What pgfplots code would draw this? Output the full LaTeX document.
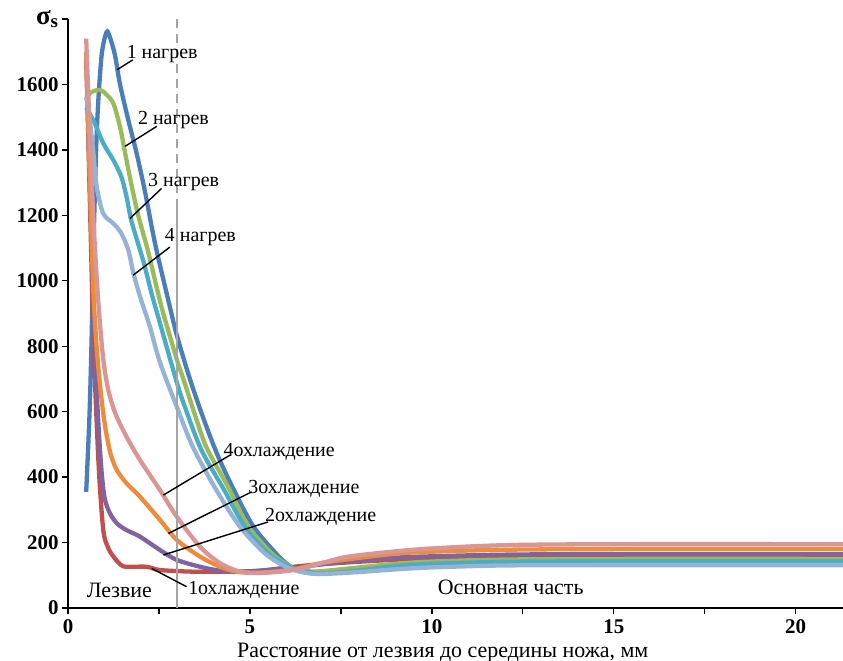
\documentclass[border=0pt]{standalone}
\usepackage{fontspec}
\setmainfont{Liberation Serif}
\usepackage{pgfplots}
\pgfplotsset{compat=1.18}

\definecolor{n1}{RGB}{74,126,187}
\definecolor{n2}{RGB}{155,187,89}
\definecolor{n3}{RGB}{75,172,198}
\definecolor{n4}{RGB}{149,179,215}
\definecolor{o1}{RGB}{192,80,77}
\definecolor{o2}{RGB}{128,100,162}
\definecolor{o3}{RGB}{236,140,60}
\definecolor{o4}{RGB}{217,150,148}
\definecolor{vline}{RGB}{165,165,165}

\newcommand{\lbl}{\fontsize{20}{22}\selectfont}
\newcommand{\lblbig}{\fontsize{22}{24}\selectfont}

\begin{document}
\begin{tikzpicture}
\useasboundingbox (-68bp,-53bp) rectangle (775bp,608bp);
\begin{axis}[
    scale only axis,
    width=775bp, height=589bp,
    xmin=0, xmax=21.3,
    ymin=0, ymax=1800,
    axis x line*=bottom,
    axis y line*=left,
    axis line style={-, line width=1.8bp},
    xtick={0,5,10,15,20},
    minor xtick={2.5,7.5,12.5,17.5},
    ytick={0,200,...,1800},
    yticklabels={0,200,400,600,800,1000,1200,1400,1600,{\fontsize{27}{28}\selectfont σ\textsubscript{s}}},
    tick align=outside,
    major tick length=6bp,
    minor tick length=6bp,
    tick style={black, line width=1.3bp},
    ticklabel style={font=\fontsize{21}{22}\selectfont\bfseries},
    xticklabel style={yshift=-2bp},
    /pgf/number format/assume math mode=true,
    clip=false,
    every axis plot/.append style={line width=4.3bp, smooth, tension=0.5, no markers},
]
% 1 нагрев
\addplot[n1] coordinates {
  (0.5,355) (0.55,480) (0.6,620) (0.65,830) (0.7,1100) (0.77,1390) (0.83,1545)
  (0.93,1695) (1.06,1760) (1.15,1745) (1.29,1690) (1.43,1600) (1.66,1490)
  (1.89,1388) (2.12,1270) (2.4,1110) (2.8,920) (3.0,830) (3.35,700) (3.72,580)
  (4.1,470) (4.54,365) (5.09,250) (5.73,165) (6.1,128) (6.5,110) (6.9,106)
  (8,112) (9,124) (10,131) (12,137) (15,138) (21.3,138)
};
% 1 охлаждение
\addplot[o1] coordinates {
  (0.5,1700) (0.6,1250) (0.68,900) (0.74,696) (0.85,420) (0.97,238) (1.1,185)
  (1.25,157) (1.45,132) (1.61,126) (2.16,126) (2.53,116) (3.44,111) (4.5,111)
  (5.27,114) (6.2,126) (7.1,135) (8.9,147) (10,151) (12,155) (15,156) (21.3,156)
};
% 2 нагрев
\addplot[n2] coordinates {
  (0.5,1560) (0.65,1577) (0.88,1583) (1.05,1570) (1.25,1541) (1.43,1470)
  (1.57,1390) (1.75,1290) (1.93,1200) (2.2,1090) (2.48,960) (2.62,900)
  (3.0,756) (3.17,700) (3.49,590) (3.81,490) (4.4,370) (4.95,250) (5.6,167)
  (6.1,127) (6.5,114) (6.9,112) (8,124) (9,135) (10,142) (12,148) (15,150) (21.3,150)
};
% 2 охлаждение
\addplot[o2] coordinates {
  (0.5,1700) (0.6,1300) (0.7,950) (0.79,660) (0.9,450) (1.0,340) (1.15,290)
  (1.35,258) (1.61,238) (1.98,218) (2.53,177) (2.99,147) (3.63,126) (4.18,114)
  (4.8,111) (6.2,122) (7.1,135) (8.9,153) (10,158) (12,163) (15,165) (21.3,165)
};
% 3 нагрев
\addplot[n3] coordinates {
  (0.5,1530) (0.74,1480) (0.97,1420) (1.25,1368) (1.47,1317) (1.61,1256)
  (1.75,1180) (2.07,1060) (2.3,960) (2.48,889) (3.0,686) (3.26,600) (3.67,482)
  (4.27,365) (4.86,248) (5.5,167) (6.1,125) (6.6,110) (7.1,106) (8,115) (9,128)
  (10,135) (12,141) (15,143) (21.3,143)
};
% 3 охлаждение
\addplot[o3] coordinates {
  (0.5,1700) (0.6,1300) (0.7,960) (0.8,780) (0.9,660) (1.0,570) (1.1,505)
  (1.2,460) (1.35,420) (1.61,381) (1.98,340) (2.53,269) (2.99,208) (3.63,157)
  (4.18,126) (4.63,111) (5.27,108) (6.2,118) (7.1,140) (8.9,165) (10,172)
  (12,178) (15,180) (21.3,180)
};
% 4 нагрев
\addplot[n4] coordinates {
  (0.5,1561) (0.6,1490) (0.7,1388) (0.79,1287) (0.97,1205) (1.25,1175)
  (1.47,1144) (1.66,1093) (1.8,1022) (2.0,945) (2.25,860) (2.53,750) (3.0,612)
  (3.44,490) (4.08,360) (4.73,248) (5.41,167) (6.0,125) (6.5,108) (7.0,104)
  (8,110) (9,118) (10,124) (12,130) (15,131) (21.3,131)
};
% 4 охлаждение
\addplot[o4] coordinates {
  (0.5,1740) (0.6,1450) (0.7,1185) (0.83,940) (0.96,770) (1.1,670) (1.3,595)
  (1.61,523) (1.98,452) (2.53,360) (2.99,279) (3.63,187) (4.18,137) (4.73,111)
  (5.27,107) (6.2,116) (7.1,141) (7.7,157) (8.9,172) (10,182) (12,192)
  (15,195) (21.3,195)
};
% граница лезвия
\addplot[vline, line width=1.6bp, sharp plot, dash pattern=on 9bp off 6bp] coordinates {(3,1800) (3,1250)};
\addplot[vline, line width=1.6bp, sharp plot] coordinates {(3,1250) (3,0)};

% подписи
\begin{scope}[line width=1.4bp, black]
\draw (axis cs:1.35,1645) -- (axis cs:1.78,1675);
\draw (axis cs:1.57,1411) -- (axis cs:2.44,1472);
\draw (axis cs:1.70,1190) -- (axis cs:2.57,1282);
\draw (axis cs:1.79,1017) -- (axis cs:2.80,1103);
\draw (axis cs:2.62,345) -- (axis cs:4.45,467);
\draw (axis cs:2.76,228) -- (axis cs:5.05,355);
\draw (axis cs:2.62,162) -- (axis cs:5.50,263);
\draw (axis cs:2.30,121) -- (axis cs:3.26,65);
\end{scope}
\begin{scope}[every node/.style={anchor=west, inner sep=0pt, font=\lbl}]
\node at (axis cs:1.61,1694) {1 нагрев};
\node at (axis cs:1.92,1492) {2 нагрев};
\node at (axis cs:2.20,1302) {3 нагрев};
\node at (axis cs:2.66,1134) {4 нагрев};
\node at (axis cs:4.27,477) {4охлаждение};
\node at (axis cs:4.95,365) {3охлаждение};
\node at (axis cs:5.41,279) {2охлаждение};
\node at (axis cs:3.30,55) {1охлаждение};
\node[font=\lblbig] at (axis cs:0.51,55) {Лезвие};
\node[font=\lblbig] at (axis cs:10.16,64) {Основная часть};
\end{scope}
\node[font=\lblbig, inner sep=0pt] at (axis cs:10.3,-135) {Расстояние от лезвия до середины ножа, мм};
\end{axis}
\end{tikzpicture}
\end{document}
